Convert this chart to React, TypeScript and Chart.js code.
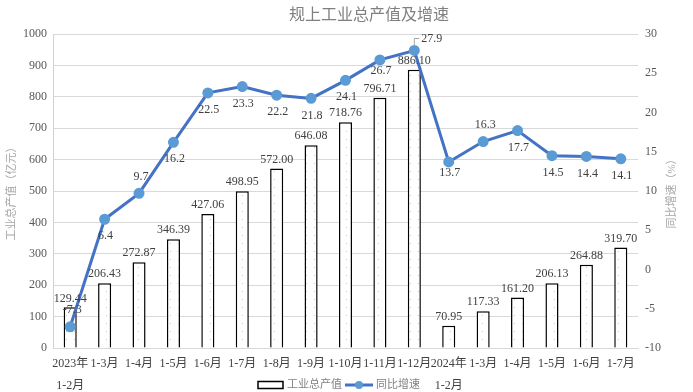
import React, { useEffect, useRef } from 'react';
import { Chart, registerables } from 'chart.js';

Chart.register(...registerables);

const categories: (string | string[])[] = [
  ['2023年', '1-2月'], '1-3月', '1-4月', '1-5月', '1-6月', '1-7月', '1-8月', '1-9月', '1-10月', '1-11月', '1-12月',
  ['2024年', '1-2月'], '1-3月', '1-4月', '1-5月', '1-6月', '1-7月',
];
const outputValues = [129.44, 206.43, 272.87, 346.39, 427.06, 498.95, 572.0, 646.08, 718.76, 796.71, 886.1, 70.95, 117.33, 161.2, 206.13, 264.88, 319.7];
const growthValues = [-7.3, 6.4, 9.7, 16.2, 22.5, 23.3, 22.2, 21.8, 24.1, 26.7, 27.9, 13.7, 16.3, 17.7, 14.5, 14.4, 14.1];
const leftTicks = { min: 0, max: 1000, step: 100 };
const rightTicks = { min: -10, max: 30, step: 5 };
const titleText = '规上工业总产值及增速';
const leftAxisTitle = '工业总产值（亿元）';
const rightAxisTitle = '同比增速（%）';
const seriesNames = ['工业总产值', '同比增速'];

// label placement style for the line labels: 'a' above, 'b' below, 'c' callout, 'n' near-below
const growthLabelPlacement = ['a', 'b', 'a', 'b', 'b', 'b', 'b', 'b', 'b', 'n', 'c', 'n', 'a', 'b', 'b', 'b', 'b'];

const SERIF = "'Liberation Serif', 'Noto Sans CJK SC', serif";
const LINE_COLOR = '#4472C4';
const POINT_COLOR = '#5B9BD5';

function makePattern(): CanvasPattern | string {
  const c = document.createElement('canvas');
  c.width = 8;
  c.height = 8;
  const g = c.getContext('2d');
  if (!g) return '#fff';
  g.fillStyle = '#ffffff';
  g.fillRect(0, 0, 8, 8);
  g.fillStyle = '#c8c8c8';
  g.fillRect(2, 3, 1, 1);
  const p = g.createPattern(c, 'repeat');
  return p || '#fff';
}

const decorPlugin = {
  id: 'decor',
  afterDatasetsDraw(chart: any) {
    const ctx = chart.ctx as CanvasRenderingContext2D;
    const area = chart.chartArea;
    ctx.save();
    // bar labels
    ctx.font = `12px ${SERIF}`;
    ctx.fillStyle = '#404040';
    ctx.textAlign = 'center';
    ctx.textBaseline = 'middle';
    const barMeta = chart.getDatasetMeta(0);
    barMeta.data.forEach((el: any, i: number) => {
      ctx.fillText(outputValues[i].toFixed(2), el.x, el.y - 9);
    });
    // line labels
    const lineMeta = chart.getDatasetMeta(1);
    lineMeta.data.forEach((el: any, i: number) => {
      const p = growthLabelPlacement[i];
      const txt = growthValues[i].toFixed(1);
      if (p === 'a') {
        ctx.textAlign = 'center';
        ctx.fillText(txt, el.x + 2, el.y - 17);
      } else if (p === 'b') {
        ctx.textAlign = 'center';
        ctx.fillText(txt, el.x + 1, el.y + 17);
      } else if (p === 'n') {
        ctx.textAlign = 'center';
        ctx.fillText(txt, el.x + 1, el.y + 11);
      } else {
        ctx.strokeStyle = '#a6a6a6';
        ctx.lineWidth = 1;
        ctx.beginPath();
        ctx.moveTo(el.x, el.y - 5);
        ctx.lineTo(el.x, el.y - 12);
        ctx.lineTo(el.x + 5, el.y - 12);
        ctx.stroke();
        ctx.textAlign = 'left';
        ctx.fillText(txt, el.x + 7, el.y - 12);
      }
    });
    ctx.restore();

    ctx.save();
    // title
    ctx.font = `16px ${SERIF}`;
    ctx.fillStyle = '#808080';
    ctx.textAlign = 'center';
    ctx.textBaseline = 'middle';
    ctx.fillText(titleText, 369, 16);
    // axis titles
    const midY = (area.top + area.bottom) / 2;
    ctx.font = `11px ${SERIF}`;
    ctx.fillStyle = '#a6a6a6';
    ctx.save();
    ctx.translate(12, midY);
    ctx.rotate(-Math.PI / 2);
    ctx.fillText(leftAxisTitle, 0, 0);
    ctx.restore();
    ctx.save();
    ctx.translate(672, midY);
    ctx.rotate(-Math.PI / 2);
    ctx.fillText(rightAxisTitle, 0, 0);
    ctx.restore();
    // legend
    const ly = 385;
    ctx.fillStyle = '#ffffff';
    ctx.fillRect(258, ly - 3.5, 25, 7);
    ctx.strokeStyle = '#000000';
    ctx.lineWidth = 1.5;
    ctx.strokeRect(258, ly - 3.5, 25, 7);
    ctx.font = `11px ${SERIF}`;
    ctx.fillStyle = '#808080';
    ctx.textAlign = 'left';
    ctx.fillText(seriesNames[0], 287, ly);
    ctx.strokeStyle = LINE_COLOR;
    ctx.lineWidth = 3;
    ctx.beginPath();
    ctx.moveTo(345, ly);
    ctx.lineTo(373, ly);
    ctx.stroke();
    ctx.fillStyle = POINT_COLOR;
    ctx.beginPath();
    ctx.arc(359, ly, 4, 0, Math.PI * 2);
    ctx.fill();
    ctx.fillStyle = '#808080';
    ctx.fillText(seriesNames[1], 376, ly);
    ctx.restore();
  },
};

export default function App() {
  const ref = useRef<HTMLCanvasElement | null>(null);
  useEffect(() => {
    document.body.style.margin = '0';
    const canvas = ref.current;
    if (!canvas) return;
    const chart = new Chart(canvas, {
      data: {
        labels: categories,
        datasets: [
          {
            type: 'bar',
            label: seriesNames[0],
            data: outputValues,
            yAxisID: 'y',
            backgroundColor: makePattern() as any,
            borderColor: '#000000',
            borderWidth: 1.5,
            barPercentage: 0.38,
            categoryPercentage: 1,
            order: 2,
          },
          {
            type: 'line',
            label: seriesNames[1],
            data: growthValues,
            yAxisID: 'y1',
            borderColor: LINE_COLOR,
            borderWidth: 3,
            pointRadius: 4,
            pointBackgroundColor: POINT_COLOR,
            pointBorderColor: POINT_COLOR,
            tension: 0,
            order: 1,
          },
        ],
      } as any,
      options: {
        responsive: false,
        animation: false,
        layout: { padding: { top: 34, left: 0, right: 0, bottom: 0 } },
        plugins: {
          legend: { display: false },
          title: { display: false },
          tooltip: { enabled: false },
        },
        scales: {
          x: {
            grid: { display: false },
            border: { color: '#d9d9d9', width: 1 },
            ticks: {
              autoSkip: false,
              maxRotation: 0,
              minRotation: 0,
              padding: -3,
              color: '#404040',
              font: { family: SERIF, size: 12, lineHeight: 1.8 },
            },
            afterFit: (s: any) => { s.height = 44; },
          },
          y: {
            position: 'left',
            min: leftTicks.min,
            max: leftTicks.max,
            ticks: {
              stepSize: leftTicks.step,
              padding: 6,
              color: '#595959',
              font: { family: SERIF, size: 12 },
              callback: (v: any) => String(v),
            },
            grid: { color: '#d9d9d9', drawTicks: false },
            border: { color: '#bdd7ee', width: 1 },
            afterFit: (s: any) => { s.width = 53; },
          },
          y1: {
            position: 'right',
            min: rightTicks.min,
            max: rightTicks.max,
            ticks: {
              stepSize: rightTicks.step,
              padding: 7,
              color: '#595959',
              font: { family: SERIF, size: 12 },
              callback: (v: any) => String(v),
            },
            grid: { display: false, drawTicks: false },
            border: { display: false },
            afterFit: (s: any) => { s.width = 55; },
          },
        },
      } as any,
      plugins: [decorPlugin],
    });
    return () => chart.destroy();
  }, []);
  return (
    <div style={{ position: 'fixed', left: 0, top: 0, width: 693, height: 392, background: '#fff' }}>
      <canvas ref={ref} width={693} height={392} />
    </div>
  );
}
